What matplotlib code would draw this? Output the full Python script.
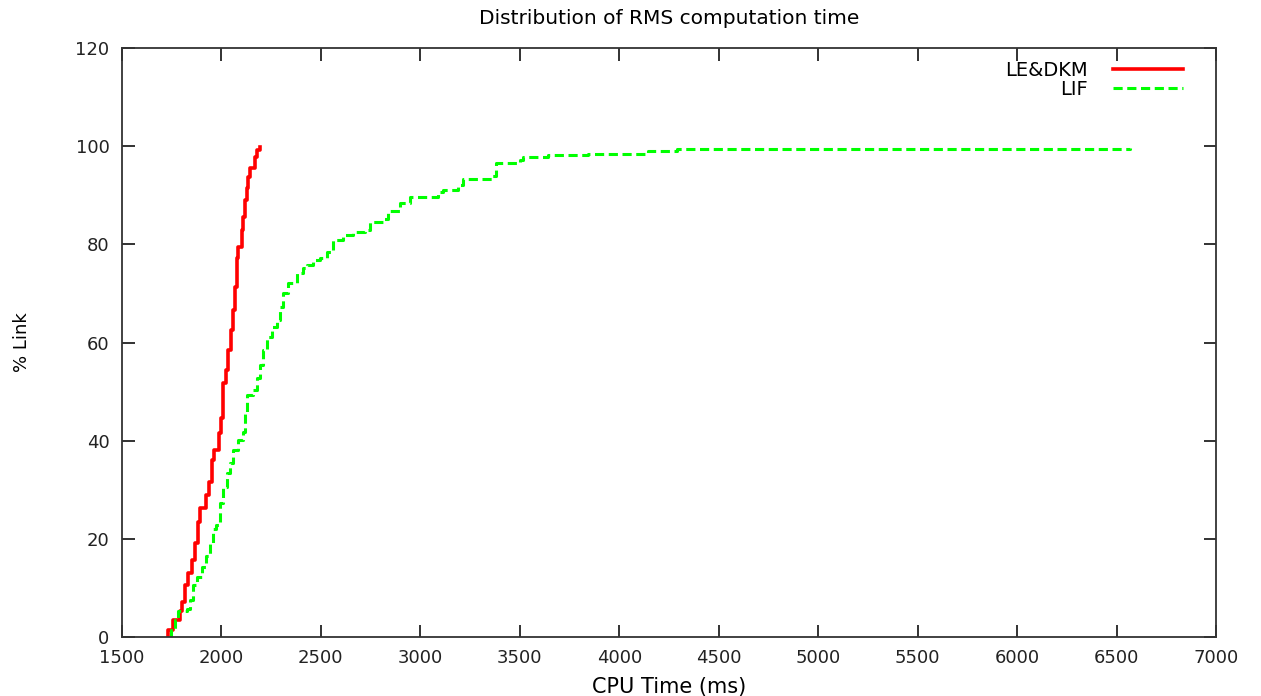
import matplotlib
matplotlib.use("Agg")
import matplotlib.pyplot as plt

plt.rcParams["font.family"] = ["DejaVu Sans"]

# step points: at each x the cumulative % jumps to y (steps-post)
le_x = [1731, 1733, 1758, 1791, 1800, 1817, 1833, 1853, 1867, 1884, 1892, 1922,
        1939, 1953, 1963, 1989, 1998, 2009, 2023, 2034, 2048, 2060, 2068, 2077,
        2085, 2102, 2110, 2118, 2127, 2135, 2143, 2169, 2177, 2194]
le_y = [0, 1.4, 3.5, 5.2, 7.2, 10.6, 13.0, 15.7, 19.1, 23.5, 26.3, 28.9,
        31.6, 36.0, 38.0, 41.5, 44.6, 51.7, 54.4, 58.5, 62.5, 66.6, 71.4, 77.2,
        79.5, 82.9, 85.6, 89.0, 91.5, 93.8, 95.5, 97.8, 99.2, 99.8]

lif_x = [1741, 1745, 1767, 1783, 1825, 1842, 1855, 1875, 1900, 1925, 1942, 1959,
         1975, 1993, 2009, 2026, 2043, 2056, 2085, 2110, 2118, 2127, 2160, 2177,
         2194, 2210, 2227, 2252, 2278, 2294, 2311, 2336, 2378, 2411, 2429, 2462,
         2495, 2529, 2562, 2613, 2663, 2722, 2747, 2814, 2839, 2898, 2948, 3090,
         3115, 3190, 3216, 3358, 3383, 3500, 3518, 3643, 3844, 4146, 4289, 6568]
lif_y = [0, 1.4, 3.5, 5.2, 5.8, 7.5, 10.6, 12.3, 14.3, 16.4, 19.1, 22.1,
         22.8, 27.2, 30.6, 33.4, 35.4, 38.1, 40.1, 41.8, 45.6, 49.3, 50.3, 52.7,
         55.4, 58.5, 61.2, 63.2, 64.6, 67.3, 70.0, 72.1, 74.2, 75.1, 75.8, 76.8,
         77.2, 78.5, 80.9, 81.9, 82.6, 82.9, 84.6, 85.1, 86.7, 88.4, 89.6, 90.6,
         91.1, 92.1, 93.4, 94.0, 96.6, 97.2, 97.7, 98.3, 98.5, 99.0, 99.5, 99.6]

x_ticks = [1500, 2000, 2500, 3000, 3500, 4000, 4500, 5000, 5500, 6000, 6500, 7000]
y_ticks = [0, 20, 40, 60, 80, 100, 120]

fig = plt.figure(figsize=(12.61, 6.96), dpi=100)
ax = fig.add_axes([0.0967, 0.0848, 0.8676, 0.8462])

ax.plot(le_x, le_y, drawstyle="steps-post", color="#ff0000", lw=2.6,
        label="LE&DKM")
ax.plot(lif_x, lif_y, drawstyle="steps-post", color="#00ff00", lw=2.2,
        dashes=(3, 1.5), label="LIF")

ax.set_xlim(1500, 7000)
ax.set_ylim(0, 120)
ax.set_xticks(x_ticks)
ax.set_yticks(y_ticks)
ax.tick_params(direction="in", length=9, width=1.3, top=True, right=True,
               labelsize=13, colors="#222222", pad=9)
for s in ax.spines.values():
    s.set_linewidth(1.3)
    s.set_color("#333333")

ax.set_title("Distribution of RMS computation time", fontsize=14.5, pad=17)
ax.set_xlabel("CPU Time (ms)", fontsize=15, labelpad=7)
ax.set_ylabel("% Link", fontsize=13, labelpad=32)

ax.legend(loc="upper right", bbox_to_anchor=(0.977, 0.992), borderaxespad=0,
          frameon=False, markerfirst=False, fontsize=14,
          handlelength=3.6, handletextpad=1.3, labelspacing=0.0)

fig.savefig("out.png", dpi=100, facecolor="white")
